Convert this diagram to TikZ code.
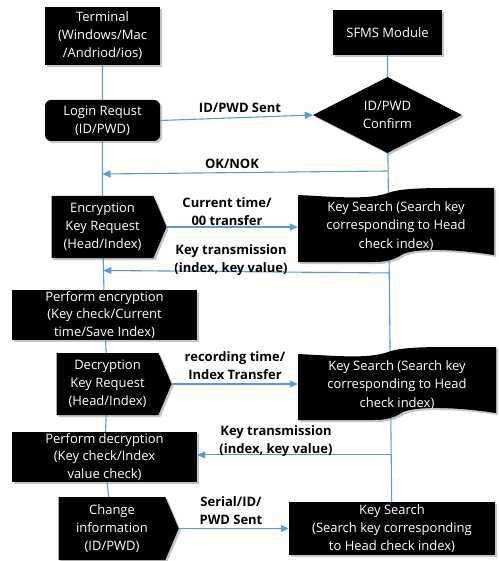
\documentclass[tikz,border=0pt]{standalone}
\usepackage{fontspec}
\setmainfont{Open Sans}
\usetikzlibrary{shapes.geometric,shapes.symbols,arrows.meta,calc,shadows}
\definecolor{lineblue}{HTML}{5B9BD5}
\pgfdeclarelayer{bg}
\pgfsetlayers{bg,main}
\newcommand{\tapefill}[4]{% L T R B
  \fill[black,drop shadow={shadow xshift=2pt,shadow yshift=-2pt,opacity=.45}]
    (#1,#2+7) .. controls (#1+40,#2+9) and (#1+70,#2+12) .. (#1+90,#2+5)
    .. controls (#1+100,#2+1) and (#1+120,#2) .. (#1+150,#2) -- (#3,#2)
    -- (#3,#4-7) .. controls (#3-40,#4-13) and (#1+120,#4-14) .. (#1+105,#4-8)
    .. controls (#1+95,#4-1) and (#1+85,#4) .. (#1+75,#4) -- (#1,#4) -- cycle;}
\begin{document}
\begin{tikzpicture}[x=1pt,y=-1pt,
  box/.style={fill=black,text=white,align=center,inner sep=0pt,
    font=\fontsize{13}{18}\selectfont,
    drop shadow={shadow xshift=2pt,shadow yshift=-2pt,opacity=.45}},
  sig/.style={box,signal,signal to=east,signal pointer angle=134},
  txt/.style={text=white,align=center,inner sep=0pt,font=\fontsize{13}{18.5}\selectfont},
  lbl/.style={font=\bfseries\fontsize{13}{18}\selectfont,align=center,text=black,inner sep=0pt},
  conn/.style={draw=lineblue,line width=1.1pt},
  arr/.style={conn,-{Triangle[length=8pt,width=7pt]}}]
\useasboundingbox (0,0) rectangle (498,561);

% left column
\node[box,minimum width=115pt,minimum height=58pt] (term) at (102.5,36) {Terminal\\(Windows/Mac\\/Andriod/ios)};
\node[box,rounded corners=6pt,minimum width=115pt,minimum height=41pt] (login) at (102.5,120.5) {Login Requst\\(ID/PWD)};
\node[sig,minimum width=115pt,minimum height=62pt] (enc) at (102.5,227) {Encryption\\Key Request\\(Head/Index)};
\node[box,font=\fontsize{13}{17.5}\selectfont,minimum width=185pt,minimum height=50pt] (pe) at (104.5,315) {Perform encryption\\(Key check/Current\\time/Save Index)};
\node[sig,minimum width=115pt,minimum height=62pt] (dec) at (107.5,384) {Decryption\\Key Request\\(Head/Index)};
\node[box,font=\fontsize{13}{17.5}\selectfont,minimum width=185pt,minimum height=50pt] (pd) at (104.5,457) {Perform decryption\\(Key check/Index\\value check)};
\node[sig,minimum width=120pt,minimum height=63pt] (ch) at (112,528.5) {Change\\information\\(ID/PWD)};

% right column
\node[box,minimum width=109pt,minimum height=45pt] (sfms) at (387.5,32.5) {SFMS Module};
\node[box,diamond,aspect=1.96,minimum width=149pt,minimum height=76pt] (dia) at (387.5,115) {ID/PWD\\Confirm};
\tapefill{298}{188}{494}{262}
\node[txt,minimum width=196pt,minimum height=74pt] (ks1) at (396,226) {Key Search (Search key\\corresponding to Head\\check index)};
\tapefill{298}{347}{496}{420}
\node[txt,minimum width=198pt,minimum height=73pt] (ks2) at (397,385) {Key Search (Search key\\corresponding to Head\\check index)};
\node[box,minimum width=206pt,minimum height=53pt] (ks3) at (392,528.5) {Key Search\\(Search key corresponding\\to Head check index)};

\begin{pgfonlayer}{bg}
  \fill[white] (0,0) rectangle (498,561);
  \draw[conn] (term.center) -- (login.center) -- (enc.center) -- (pe.center)
    -- (dec.center) -- (pd.center) -- (ch.center);
  \draw[conn] (sfms.center) -- (dia.center) -- (ks3.center);
\end{pgfonlayer}

\coordinate (r1) at ($(dia.south)!(0,176)!(ks3.north)$);
\coordinate (l1) at ($(login.south)!(0,174)!(enc.north)$);
\coordinate (r2) at ($(dia.south)!(0,278)!(ks3.north)$);
\coordinate (l2) at ($(enc.south)!(0,277)!(pe.north)$);
\coordinate (r3) at ($(dia.south)!(0,460)!(ks3.north)$);

\draw[arr] (login.east) -- (dia.west);
\node[lbl] (t1) at (240,108) {ID/PWD Sent};
\draw[arr] (r1) -- (l1);
\node[lbl] (t2) at (232,164) {OK/NOK};
\draw[arr] (enc.east) -- (enc.east -| ks1.west);
\node[lbl] (t3) at (227,212) {Current time/\\00 transfer};
\draw[arr] (r2) -- (l2);
\node[lbl] (t4) at (231,260) {Key transmission\\(index, key value)};
\draw[arr] (dec.east) -- (dec.east -| ks2.west);
\node[lbl] (t5) at (235,366) {recording time/\\Index Transfer};
\draw[arr] (r3) -- (r3 -| pd.east);
\node[lbl] (t6) at (276,441) {Key transmission\\(index, key value)};
\draw[arr] (ch.east) -- (ch.east -| ks3.west);
\node[lbl] (t7) at (231,511) {Serial/ID/\\PWD Sent};
\end{tikzpicture}
\end{document}
